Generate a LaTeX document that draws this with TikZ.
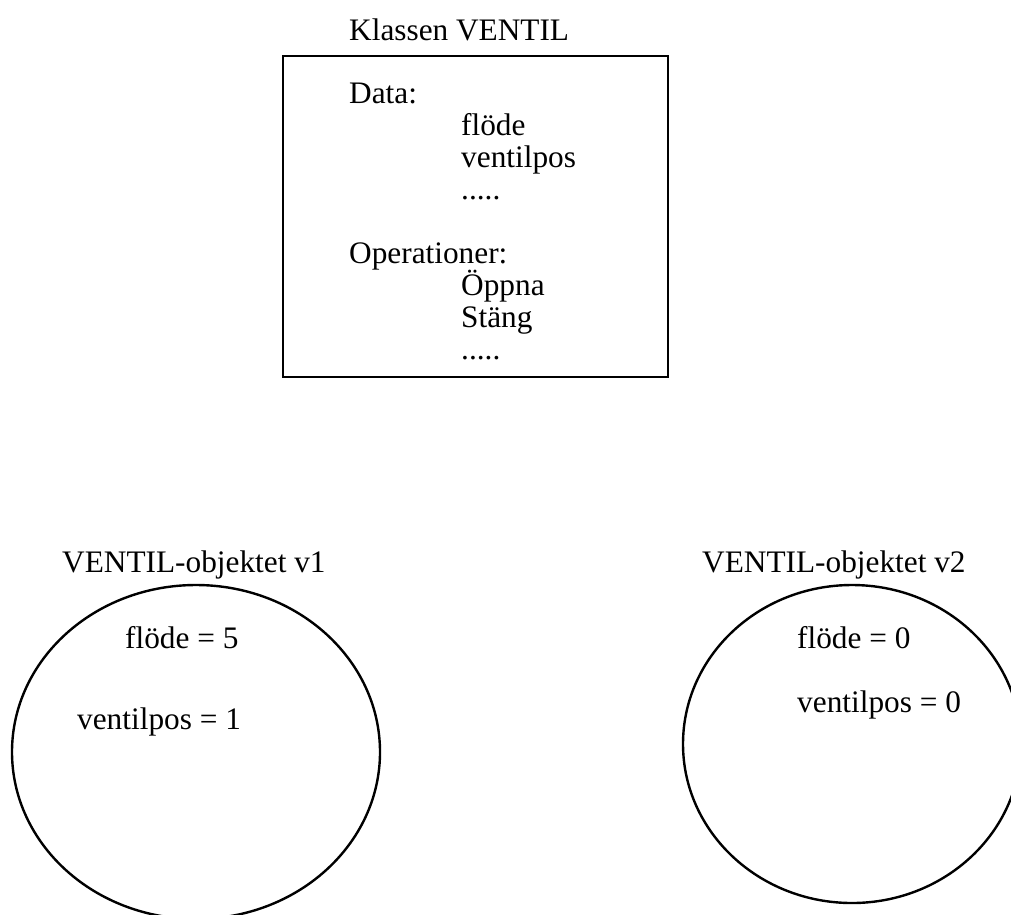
\documentclass[tikz,border=0pt]{standalone}
\usepackage{fontspec}
\setmainfont{Liberation Serif}
\usetikzlibrary{shapes.geometric}
\begin{document}
\begin{tikzpicture}[x=1pt,y=-1pt,
  txt/.style={anchor=base west,inner sep=0pt,font=\fontsize{31.3}{32}\selectfont},
  frame/.style={draw,line width=2.6pt,rectangle,inner sep=0pt},
  obj/.style={draw,line width=2.4pt,ellipse,inner sep=0pt}]
\useasboundingbox (0,0) rectangle (1011,914);
% class box
\node[txt] (title) at (349,40) {Klassen VENTIL};
\node[frame,minimum width=385pt,minimum height=321pt] (box) at (475.5,216.5) {};
\node[txt] (data) at (349,103) {Data:};
\node[txt] (d1) at (461,135) {flöde};
\node[txt] (d2) at (461,167) {ventilpos};
\node[txt] (d3) at (461,199) {.....};
\node[txt] (ops) at (349,263) {Operationer:};
\node[txt] (o1) at (461,295) {Öppna};
\node[txt] (o2) at (461,327) {Stäng};
\node[txt] (o3) at (461,359) {.....};
% object v1
\node[txt] (l1) at (62,572) {VENTIL-objektet v1};
\node[obj,minimum width=368pt,minimum height=334pt] (e1) at (196,752) {};
\node[txt] (a1) at (125,648) {flöde = 5};
\node[txt] (b1) at (77,729) {ventilpos = 1};
% object v2
\node[txt] (l2) at (702,572) {VENTIL-objektet v2};
\node[obj,minimum width=338pt,minimum height=318pt] (e2) at (852,744) {};
\node[txt] (a2) at (797,648) {flöde = 0};
\node[txt] (b2) at (797,712) {ventilpos = 0};
\end{tikzpicture}
\end{document}
